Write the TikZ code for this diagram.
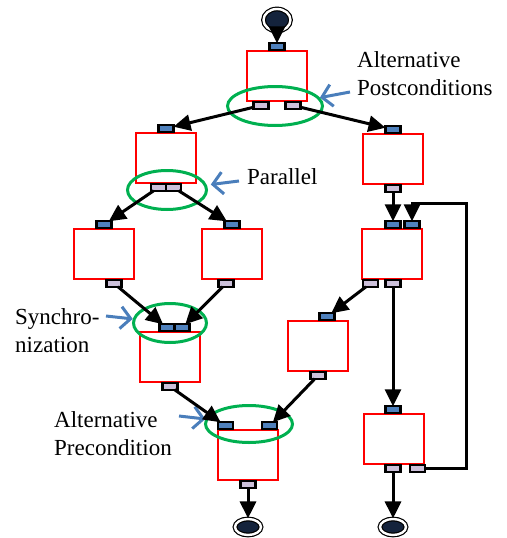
\documentclass[tikz,border=0pt]{standalone}
\usepackage{fontspec}
\setmainfont{Liberation Serif}
\usetikzlibrary{arrows.meta,positioning,shapes.geometric}

\definecolor{portblue}{HTML}{4F81BD}
\definecolor{portlilac}{HTML}{CCC0DA}
\definecolor{ringgreen}{HTML}{00B050}
\definecolor{noteblue}{HTML}{4A7EBB}
\definecolor{termnavy}{HTML}{14233C}

\begin{document}
\begin{tikzpicture}[
    x=1pt, y=-1pt,
    task/.style={rectangle, draw=red, line width=2.4pt, fill=white, minimum width=60pt, minimum height=50pt, inner sep=0pt},
    inport/.style={rectangle, draw=black, line width=2.2pt, fill=portblue, minimum width=15pt, minimum height=6.5pt, inner sep=0pt, outer sep=0pt},
    outport/.style={inport, fill=portlilac},
    term/.style={ellipse, draw=black, line width=1.2pt, double=white, double distance=2.4pt, fill=termnavy, inner sep=0pt},
    ring/.style={ellipse, draw=ringgreen, line width=3pt, inner sep=0pt},
    flow/.style={-{Triangle[length=17pt, width=16pt]}, line width=3pt},
    note/.style={-{Straight Barb[length=10pt, width=22pt]}, draw=noteblue, line width=3pt},
    lbl/.style={font=\fontsize{23}{28}\selectfont, align=left, inner sep=0pt, anchor=base west},
]
    \useasboundingbox (0,0) rectangle (506,538);

    % start and end
    \node[term, minimum width=27pt, minimum height=22pt] (start) at (277,20) {};
    \node[term, minimum width=26pt, minimum height=16pt] (endI) at (248,527) {};
    \node[term, minimum width=26pt, minimum height=16pt] (endJ) at (393,527) {};

    % tasks
    \node[task] (A) at (277,76) {};
    \node[task] (B) at (166,158) {};
    \node[task] (C) at (393,159) {};
    \node[task] (D) at (104,254) {};
    \node[task] (E) at (232,254) {};
    \node[task] (F) at (392,254) {};
    \node[task] (G) at (170,357) {};
    \node[task] (H) at (318,346) {};
    \node[task] (I) at (248,455) {};
    \node[task] (J) at (394,439) {};

    % rings
    \node[ring, minimum width=95pt, minimum height=39pt] (ringpost) at (275,106) {};
    \node[ring, minimum width=79pt, minimum height=39pt] (ringpar) at (167,190) {};
    \node[ring, minimum width=73pt, minimum height=39pt] (ringsync) at (170,323) {};
    \node[ring, minimum width=87pt, minimum height=37pt] (ringpre) at (249,424) {};

    % ports
    \node[inport, anchor=south] (Ain) at (A.north) {};
    \node[outport, anchor=north] (Aout1) at ([xshift=-16pt]A.south) {};
    \node[outport, anchor=north] (Aout2) at ([xshift=16pt]A.south) {};

    \node[inport, anchor=south] (Bin) at (B.north) {};
    \node[outport, anchor=north east] (Bout1) at (B.south) {};
    \node[outport, anchor=north west] (Bout2) at (B.south) {};

    \node[inport, anchor=south] (Cin) at (C.north) {};
    \node[outport, anchor=north] (Cout) at (C.south) {};

    \node[inport, anchor=south] (Din) at (D.north) {};
    \node[outport, anchor=north] (Dout) at ([xshift=10pt]D.south) {};

    \node[inport, anchor=south] (Ein) at (E.north) {};
    \node[outport, anchor=north] (Eout) at ([xshift=-6pt]E.south) {};

    \node[inport, anchor=south] (Fin1) at (F.north -| Cout) {};
    \node[inport, right=4pt of Fin1] (Fin2) {};
    \node[outport, anchor=north west] (Fout1) at ([xshift=2pt]F.south west) {};
    \node[outport, anchor=north] (Fout2) at (F.south -| Cout) {};

    \node[inport, anchor=south east] (Gin1) at ([xshift=4.5pt]G.north) {};
    \node[inport, anchor=south west] (Gin2) at ([xshift=4.5pt]G.north) {};
    \node[outport, anchor=north] (Gout) at (G.south) {};

    \node[inport, anchor=south] (Hin) at ([xshift=9pt]H.north) {};
    \node[outport, anchor=north] (Hout) at (H.south) {};

    \node[inport, anchor=south west] (Iin1) at ([xshift=1pt]I.north west) {};
    \node[inport, anchor=south east] (Iin2) at ([xshift=-2pt]I.north east) {};
    \node[outport, anchor=north] (Iout) at (I.south) {};

    \node[inport, anchor=south] (Jin) at (J.north -| Cout) {};
    \node[outport, anchor=north] (Jout1) at (J.south -| Cout) {};
    \node[outport, anchor=north east] (Jout2) at (J.south east) {};

    % labels
    \node[lbl] (lblpost) at (357,95) {Alternative\\Postconditions};
    \node[lbl] (lblpar) at (247,184) {Parallel};
    \node[lbl] (lblsync) at (15,352) {Synchro-\\nization};
    \node[lbl] (lblpre) at (54,455) {Alternative\\Precondition};

    \coordinate (postnote) at (350,92);
    \coordinate (parnote) at (239,181);
    \coordinate (syncnote) at (106,316);
    \coordinate (prenote) at (179,416);
    \coordinate (back) at (466,203);

    \draw[note] (postnote) -- (ringpost);
    \draw[note, shorten >=4pt] (parnote) -- (ringpar);
    \draw[note] (syncnote) -- (ringsync);
    \draw[note] (prenote) -- (ringpre);

    % flows
    \draw[flow] (start) -- (Ain);
    \draw[flow] (Aout1) -- (Bin);
    \draw[flow] (Aout2) -- (Cin);
    \draw[flow] (Bout1) -- (Din);
    \draw[flow] (Bout2) -- (Ein);
    \draw[flow] (Cout) -- (Fin1);
    \draw[flow] (Dout) -- (Gin1);
    \draw[flow] (Eout) -- (Gin2);
    \draw[flow] (Fout1) -- (Hin);
    \draw[flow] (Fout2) -- (Jin);
    \draw[flow] (Gout) -- (Iin1);
    \draw[flow] (Hout) -- (Iin2);
    \draw[flow] (Iout) -- (endI);
    \draw[flow] (Jout1) -- (endJ);
    \draw[flow] (Jout2) -| (back) -| (Fin2);
\end{tikzpicture}
\end{document}
